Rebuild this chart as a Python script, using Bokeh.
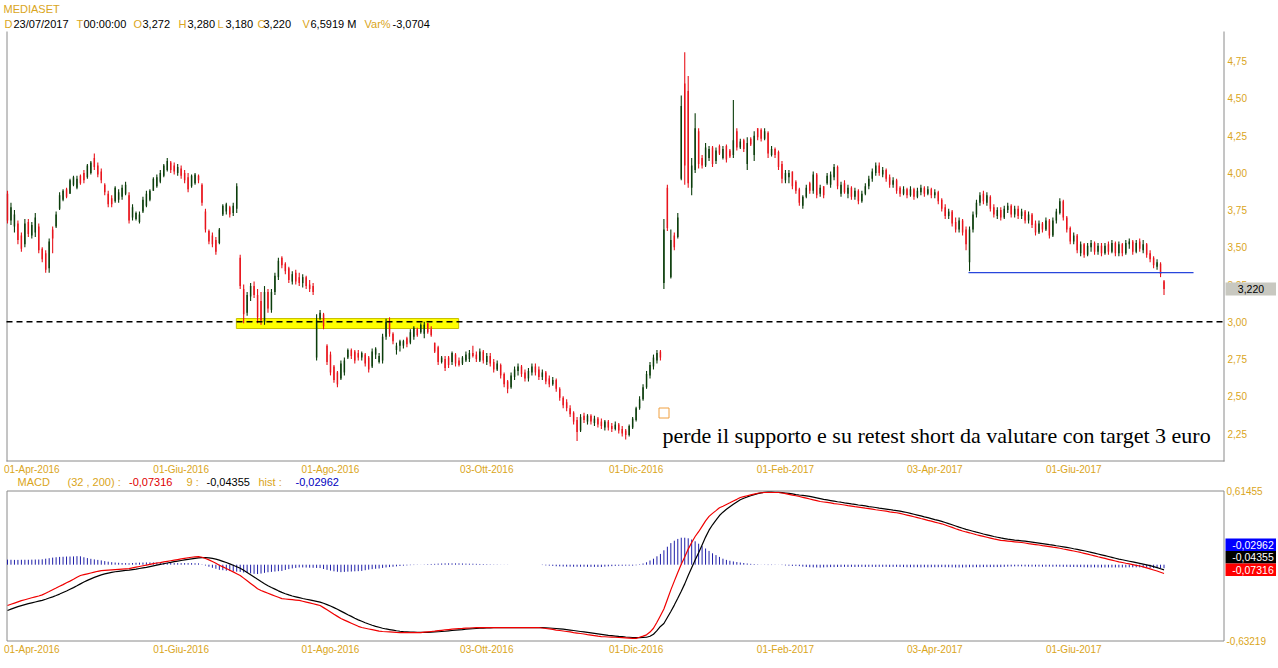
from bokeh.plotting import figure
from bokeh.models import Range1d, ColumnDataSource
from bokeh.core.properties import value
from bokeh.embed import file_html
from bokeh.resources import INLINE

# ---------------- data ----------------
open_ = [
    3.86, 3.68, 3.64, 3.66, 3.58, 3.52, 3.67, 3.58, 3.60, 3.64,
    3.49, 3.46, 3.36, 3.62, 3.64, 3.76, 3.82, 3.89, 3.86, 3.92,
    3.90, 3.98, 4.00, 3.97, 4.00, 4.10, 4.05, 4.01, 3.92, 3.86,
    3.83, 3.81, 3.82, 3.84, 3.86, 3.85, 3.70, 3.69, 3.67, 3.74,
    3.78, 3.82, 3.88, 3.91, 3.94, 3.98, 4.02, 4.07, 4.05, 4.00,
    4.03, 4.00, 3.97, 3.91, 3.93, 3.98, 3.92, 3.74, 3.61, 3.58,
    3.55, 3.53, 3.72, 3.74, 3.77, 3.73, 3.76, 3.43, 3.22, 3.06,
    3.17, 3.24, 3.18, 3.14, 3.00, 3.20, 3.08, 3.20, 3.30, 3.43,
    3.39, 3.36, 3.27, 3.33, 3.30, 3.26, 3.30, 3.25, 3.24, 2.76,
    3.02, 3.05, 2.84, 2.78, 2.70, 2.66, 2.62, 2.66, 2.76, 2.81,
    2.80, 2.79, 2.76, 2.78, 2.76, 2.70, 2.78, 2.73, 2.74, 2.90,
    3.00, 2.92, 2.81, 2.84, 2.84, 2.89, 2.86, 2.90, 2.95, 2.93,
    2.92, 2.99, 2.95, 2.86, 2.83, 2.73, 2.75, 2.76, 2.73, 2.78,
    2.74, 2.72, 2.74, 2.75, 2.79, 2.78, 2.74, 2.80, 2.73, 2.77,
    2.73, 2.68, 2.71, 2.65, 2.60, 2.56, 2.63, 2.67, 2.70, 2.66,
    2.62, 2.66, 2.70, 2.68, 2.63, 2.66, 2.62, 2.58, 2.61, 2.55,
    2.49, 2.46, 2.42, 2.39, 2.34, 2.27, 2.37, 2.33, 2.37, 2.32,
    2.35, 2.33, 2.29, 2.33, 2.30, 2.28, 2.31, 2.28, 2.27, 2.24,
    2.29, 2.34, 2.42, 2.48, 2.56, 2.64, 2.70, 2.74, 2.80, 3.26,
    3.90, 3.30, 3.58, 3.57, 3.96, 4.60, 4.55, 3.90, 4.02, 4.28,
    4.10, 4.05, 4.10, 4.17, 4.08, 4.18, 4.10, 4.18, 4.15, 4.12,
    4.28, 4.17, 4.22, 4.06, 4.23, 4.12, 4.30, 4.29, 4.23, 4.27,
    4.12, 4.16, 4.14, 4.06, 3.95, 3.97, 4.01, 3.94, 3.89, 3.78,
    3.84, 3.93, 3.88, 3.99, 3.86, 3.91, 3.93, 3.92, 3.97, 4.04,
    3.86, 3.93, 3.86, 3.90, 3.84, 3.88, 3.81, 3.86, 3.91, 3.96,
    4.00, 4.05, 3.99, 4.02, 3.97, 3.92, 3.95, 3.90, 3.86, 3.89,
    3.85, 3.89, 3.84, 3.87, 3.90, 3.86, 3.89, 3.85, 3.87, 3.82,
    3.77, 3.71, 3.74, 3.67, 3.62, 3.68, 3.62, 3.40, 3.62, 3.72,
    3.80, 3.86, 3.80, 3.84, 3.77, 3.71, 3.75, 3.70, 3.75, 3.78,
    3.72, 3.76, 3.71, 3.74, 3.68, 3.72, 3.66, 3.60, 3.66, 3.62,
    3.68, 3.58, 3.68, 3.73, 3.81, 3.70, 3.63, 3.54, 3.58, 3.46,
    3.52, 3.45, 3.50, 3.53, 3.47, 3.51, 3.46, 3.52, 3.47, 3.53,
    3.46, 3.52, 3.46, 3.52, 3.54, 3.47, 3.54, 3.48, 3.52, 3.46,
    3.43, 3.37, 3.39, 3.272,
]
high = [
    3.88, 3.80, 3.75, 3.68, 3.60, 3.69, 3.69, 3.67, 3.73, 3.66,
    3.50, 3.48, 3.56, 3.64, 3.74, 3.87, 3.89, 3.90, 3.96, 3.98,
    3.98, 3.99, 4.02, 4.06, 4.08, 4.13, 4.07, 4.03, 3.93, 3.88,
    3.85, 3.91, 3.89, 3.92, 3.94, 3.87, 3.79, 3.74, 3.74, 3.84,
    3.88, 3.89, 3.97, 3.99, 4.02, 4.06, 4.10, 4.08, 4.07, 4.06,
    4.05, 4.02, 4.00, 3.99, 4.00, 3.99, 3.93, 3.76, 3.62, 3.60,
    3.57, 3.63, 3.79, 3.80, 3.78, 3.80, 3.93, 3.45, 3.25, 3.20,
    3.26, 3.27, 3.22, 3.20, 3.24, 3.22, 3.22, 3.33, 3.43, 3.44,
    3.40, 3.37, 3.34, 3.35, 3.33, 3.32, 3.31, 3.28, 3.26, 3.05,
    3.08, 3.06, 2.85, 2.80, 2.71, 2.67, 2.74, 2.76, 2.82, 2.82,
    2.81, 2.81, 2.80, 2.79, 2.77, 2.82, 2.83, 2.79, 2.92, 3.02,
    3.03, 2.93, 2.86, 2.88, 2.88, 2.90, 2.95, 2.97, 2.96, 2.99,
    3.00, 2.99, 2.97, 2.86, 2.84, 2.77, 2.77, 2.77, 2.80, 2.79,
    2.76, 2.77, 2.80, 2.81, 2.84, 2.80, 2.82, 2.81, 2.79, 2.79,
    2.75, 2.74, 2.72, 2.66, 2.61, 2.66, 2.70, 2.72, 2.71, 2.68,
    2.69, 2.72, 2.72, 2.70, 2.68, 2.67, 2.64, 2.63, 2.62, 2.56,
    2.50, 2.48, 2.44, 2.40, 2.36, 2.38, 2.39, 2.38, 2.38, 2.37,
    2.36, 2.35, 2.34, 2.34, 2.32, 2.33, 2.32, 2.30, 2.28, 2.31,
    2.36, 2.43, 2.50, 2.58, 2.67, 2.73, 2.78, 2.81, 2.81, 3.69,
    3.92, 3.62, 3.60, 3.73, 4.52, 4.81, 4.65, 4.10, 4.40, 4.30,
    4.12, 4.20, 4.18, 4.18, 4.17, 4.19, 4.18, 4.19, 4.16, 4.49,
    4.30, 4.23, 4.23, 4.24, 4.24, 4.28, 4.30, 4.30, 4.30, 4.28,
    4.18, 4.17, 4.15, 4.08, 4.02, 4.02, 4.01, 3.95, 3.90, 3.85,
    3.92, 3.94, 4.01, 4.00, 3.92, 3.91, 4.00, 4.01, 4.06, 4.05,
    3.94, 3.95, 3.92, 3.91, 3.90, 3.89, 3.88, 3.93, 3.98, 4.03,
    4.07, 4.07, 4.04, 4.03, 3.99, 3.97, 3.96, 3.91, 3.91, 3.90,
    3.91, 3.90, 3.90, 3.92, 3.91, 3.91, 3.90, 3.89, 3.88, 3.83,
    3.79, 3.76, 3.75, 3.70, 3.70, 3.69, 3.64, 3.64, 3.74, 3.82,
    3.87, 3.88, 3.87, 3.85, 3.79, 3.77, 3.77, 3.78, 3.80, 3.79,
    3.78, 3.78, 3.76, 3.75, 3.74, 3.73, 3.68, 3.68, 3.67, 3.70,
    3.69, 3.70, 3.76, 3.83, 3.82, 3.71, 3.64, 3.60, 3.59, 3.54,
    3.53, 3.53, 3.55, 3.54, 3.53, 3.53, 3.53, 3.54, 3.55, 3.54,
    3.54, 3.53, 3.55, 3.56, 3.55, 3.55, 3.56, 3.55, 3.53, 3.48,
    3.44, 3.42, 3.40, 3.28,
]
low = [
    3.66, 3.65, 3.60, 3.52, 3.47, 3.50, 3.57, 3.56, 3.57, 3.46,
    3.40, 3.33, 3.33, 3.46, 3.63, 3.75, 3.81, 3.83, 3.86, 3.91,
    3.89, 3.92, 3.93, 3.96, 3.99, 4.02, 3.97, 3.93, 3.85, 3.77,
    3.77, 3.80, 3.80, 3.82, 3.85, 3.66, 3.68, 3.68, 3.66, 3.73,
    3.77, 3.81, 3.88, 3.90, 3.93, 3.97, 4.01, 4.00, 3.99, 3.98,
    3.96, 3.93, 3.87, 3.90, 3.92, 3.93, 3.78, 3.60, 3.52, 3.50,
    3.45, 3.52, 3.71, 3.72, 3.70, 3.71, 3.73, 3.22, 2.99, 3.04,
    3.14, 3.16, 2.99, 2.98, 2.98, 3.06, 3.06, 3.18, 3.28, 3.36,
    3.32, 3.26, 3.25, 3.25, 3.24, 3.23, 3.22, 3.20, 3.18, 2.74,
    3.01, 2.95, 2.71, 2.64, 2.59, 2.56, 2.61, 2.64, 2.75, 2.75,
    2.72, 2.74, 2.74, 2.70, 2.66, 2.69, 2.75, 2.72, 2.72, 2.88,
    2.90, 2.85, 2.78, 2.80, 2.82, 2.83, 2.85, 2.88, 2.90, 2.92,
    2.89, 2.92, 2.90, 2.79, 2.71, 2.72, 2.67, 2.69, 2.71, 2.70,
    2.70, 2.71, 2.73, 2.73, 2.76, 2.73, 2.73, 2.72, 2.71, 2.70,
    2.66, 2.67, 2.62, 2.56, 2.52, 2.55, 2.61, 2.64, 2.63, 2.60,
    2.60, 2.64, 2.64, 2.61, 2.61, 2.58, 2.56, 2.57, 2.53, 2.47,
    2.42, 2.40, 2.36, 2.31, 2.20, 2.26, 2.32, 2.31, 2.31, 2.30,
    2.29, 2.28, 2.27, 2.27, 2.26, 2.27, 2.25, 2.23, 2.21, 2.23,
    2.28, 2.33, 2.41, 2.47, 2.55, 2.62, 2.68, 2.72, 2.74, 3.22,
    3.61, 3.29, 3.48, 3.56, 3.95, 3.92, 3.90, 3.85, 4.00, 4.03,
    4.03, 4.04, 4.08, 4.04, 4.06, 4.12, 4.09, 4.07, 4.10, 4.10,
    4.15, 4.16, 4.14, 4.02, 4.18, 4.08, 4.22, 4.21, 4.22, 4.10,
    4.11, 4.10, 4.02, 3.93, 3.93, 3.93, 3.89, 3.86, 3.78, 3.76,
    3.83, 3.86, 3.86, 3.83, 3.84, 3.83, 3.92, 3.90, 3.95, 3.89,
    3.84, 3.86, 3.83, 3.82, 3.82, 3.79, 3.80, 3.85, 3.89, 3.94,
    3.98, 3.98, 3.97, 3.94, 3.90, 3.90, 3.86, 3.84, 3.85, 3.83,
    3.84, 3.82, 3.83, 3.85, 3.84, 3.85, 3.83, 3.83, 3.79, 3.74,
    3.69, 3.69, 3.64, 3.60, 3.60, 3.58, 3.48, 3.34, 3.60, 3.70,
    3.78, 3.79, 3.78, 3.74, 3.70, 3.69, 3.68, 3.69, 3.73, 3.70,
    3.70, 3.69, 3.69, 3.66, 3.66, 3.63, 3.58, 3.59, 3.60, 3.61,
    3.56, 3.57, 3.66, 3.72, 3.68, 3.60, 3.52, 3.52, 3.46, 3.44,
    3.43, 3.44, 3.47, 3.45, 3.45, 3.44, 3.45, 3.45, 3.46, 3.44,
    3.44, 3.44, 3.45, 3.49, 3.45, 3.46, 3.47, 3.46, 3.43, 3.40,
    3.36, 3.35, 3.30, 3.18,
]
close = [
    3.68, 3.77, 3.72, 3.55, 3.49, 3.66, 3.59, 3.65, 3.70, 3.48,
    3.42, 3.35, 3.54, 3.56, 3.72, 3.85, 3.88, 3.84, 3.95, 3.97,
    3.96, 3.93, 3.95, 4.05, 4.07, 4.04, 3.99, 3.95, 3.87, 3.79,
    3.79, 3.90, 3.87, 3.90, 3.92, 3.68, 3.77, 3.73, 3.72, 3.82,
    3.86, 3.88, 3.96, 3.97, 4.00, 4.05, 4.08, 4.02, 4.01, 4.04,
    3.98, 3.95, 3.89, 3.98, 3.99, 3.95, 3.80, 3.62, 3.54, 3.52,
    3.47, 3.62, 3.78, 3.79, 3.72, 3.78, 3.91, 3.24, 3.05, 3.18,
    3.24, 3.18, 3.03, 3.01, 3.20, 3.09, 3.20, 3.31, 3.41, 3.38,
    3.34, 3.28, 3.32, 3.27, 3.26, 3.30, 3.24, 3.22, 3.20, 3.01,
    3.06, 2.97, 2.73, 2.66, 2.61, 2.58, 2.72, 2.74, 2.81, 2.77,
    2.74, 2.76, 2.79, 2.72, 2.68, 2.80, 2.82, 2.77, 2.90, 3.00,
    2.92, 2.87, 2.84, 2.87, 2.87, 2.85, 2.93, 2.96, 2.91, 2.98,
    2.98, 2.93, 2.91, 2.80, 2.73, 2.76, 2.69, 2.71, 2.79, 2.72,
    2.71, 2.76, 2.78, 2.79, 2.77, 2.75, 2.80, 2.74, 2.77, 2.72,
    2.68, 2.72, 2.64, 2.58, 2.55, 2.64, 2.68, 2.70, 2.65, 2.62,
    2.67, 2.70, 2.66, 2.63, 2.66, 2.60, 2.58, 2.61, 2.55, 2.49,
    2.44, 2.42, 2.38, 2.33, 2.26, 2.36, 2.34, 2.37, 2.33, 2.35,
    2.31, 2.30, 2.33, 2.29, 2.28, 2.31, 2.27, 2.25, 2.24, 2.30,
    2.35, 2.42, 2.48, 2.56, 2.65, 2.71, 2.76, 2.79, 2.76, 3.62,
    3.63, 3.55, 3.50, 3.70, 4.45, 4.05, 3.93, 4.05, 4.30, 4.06,
    4.05, 4.17, 4.16, 4.06, 4.15, 4.13, 4.16, 4.09, 4.11, 4.22,
    4.17, 4.21, 4.16, 4.20, 4.19, 4.25, 4.24, 4.23, 4.28, 4.13,
    4.16, 4.12, 4.04, 3.96, 4.00, 4.00, 3.91, 3.88, 3.80, 3.84,
    3.90, 3.88, 3.99, 3.85, 3.90, 3.85, 3.98, 3.99, 4.04, 3.91,
    3.92, 3.87, 3.90, 3.84, 3.88, 3.81, 3.86, 3.91, 3.96, 4.01,
    4.05, 4.00, 4.02, 3.96, 3.92, 3.95, 3.88, 3.86, 3.89, 3.85,
    3.89, 3.84, 3.88, 3.90, 3.86, 3.89, 3.85, 3.87, 3.81, 3.76,
    3.71, 3.74, 3.66, 3.62, 3.68, 3.60, 3.52, 3.62, 3.72, 3.80,
    3.85, 3.81, 3.85, 3.76, 3.72, 3.75, 3.70, 3.76, 3.78, 3.72,
    3.76, 3.71, 3.74, 3.68, 3.72, 3.65, 3.60, 3.66, 3.62, 3.68,
    3.58, 3.68, 3.74, 3.81, 3.70, 3.62, 3.54, 3.58, 3.48, 3.52,
    3.45, 3.51, 3.53, 3.47, 3.51, 3.46, 3.51, 3.47, 3.53, 3.46,
    3.52, 3.46, 3.53, 3.54, 3.47, 3.53, 3.49, 3.52, 3.45, 3.42,
    3.38, 3.40, 3.32, 3.22,
]
macd = [
    -0.340, -0.330, -0.320, -0.310, -0.300, -0.292, -0.284, -0.276, -0.268, -0.261,
    -0.252, -0.238, -0.224, -0.209, -0.195, -0.180, -0.166, -0.151, -0.137, -0.122,
    -0.105, -0.090, -0.083, -0.076, -0.069, -0.062, -0.055, -0.049, -0.047, -0.045,
    -0.043, -0.041, -0.039, -0.037, -0.035, -0.033, -0.027, -0.021, -0.015, -0.009,
    -0.003, 0.003, 0.009, 0.014, 0.018, 0.023, 0.028, 0.033, 0.038, 0.043,
    0.048, 0.053, 0.058, 0.062, 0.065, 0.068, 0.062, 0.052, 0.040, 0.026,
    0.012, -0.005, -0.018, -0.032, -0.046, -0.060, -0.075, -0.090, -0.112, -0.134,
    -0.156, -0.178, -0.200, -0.215, -0.227, -0.238, -0.250, -0.261, -0.272, -0.283,
    -0.286, -0.289, -0.292, -0.295, -0.298, -0.305, -0.312, -0.319, -0.326, -0.333,
    -0.340, -0.358, -0.376, -0.394, -0.413, -0.431, -0.449, -0.462, -0.475, -0.488,
    -0.501, -0.514, -0.524, -0.530, -0.536, -0.542, -0.548, -0.554, -0.557, -0.559,
    -0.561, -0.563, -0.565, -0.566, -0.566, -0.566, -0.566, -0.566, -0.566, -0.566,
    -0.563, -0.560, -0.557, -0.554, -0.550, -0.547, -0.544, -0.541, -0.538, -0.535,
    -0.532, -0.531, -0.529, -0.528, -0.526, -0.525, -0.524, -0.524, -0.524, -0.524,
    -0.524, -0.524, -0.524, -0.524, -0.524, -0.524, -0.524, -0.524, -0.524, -0.524,
    -0.524, -0.524, -0.524, -0.524, -0.528, -0.532, -0.536, -0.540, -0.545, -0.549,
    -0.553, -0.557, -0.561, -0.566, -0.570, -0.574, -0.578, -0.583, -0.587, -0.591,
    -0.596, -0.600, -0.601, -0.603, -0.604, -0.605, -0.607, -0.609, -0.611, -0.613,
    -0.615, -0.614, -0.605, -0.596, -0.585, -0.562, -0.530, -0.480, -0.425, -0.370,
    -0.290, -0.210, -0.137, -0.065, 0.003, 0.065, 0.130, 0.185, 0.235, 0.275,
    0.320, 0.365, 0.403, 0.428, 0.451, 0.475, 0.488, 0.502, 0.516, 0.531,
    0.545, 0.560, 0.568, 0.575, 0.582, 0.589, 0.596, 0.600, 0.602, 0.602,
    0.602, 0.602, 0.602, 0.598, 0.592, 0.586, 0.580, 0.575, 0.569, 0.562,
    0.555, 0.548, 0.541, 0.534, 0.527, 0.523, 0.519, 0.515, 0.510, 0.506,
    0.502, 0.498, 0.493, 0.489, 0.484, 0.480, 0.476, 0.471, 0.467, 0.463,
    0.458, 0.454, 0.450, 0.446, 0.441, 0.437, 0.433, 0.428, 0.421, 0.414,
    0.407, 0.400, 0.393, 0.385, 0.378, 0.370, 0.363, 0.355, 0.348, 0.341,
    0.331, 0.321, 0.311, 0.300, 0.290, 0.281, 0.273, 0.266, 0.258, 0.250,
    0.243, 0.236, 0.229, 0.222, 0.215, 0.209, 0.203, 0.200, 0.197, 0.194,
    0.191, 0.188, 0.185, 0.181, 0.176, 0.172, 0.168, 0.164, 0.159, 0.155,
    0.151, 0.146, 0.142, 0.137, 0.131, 0.126, 0.120, 0.114, 0.108, 0.102,
    0.095, 0.088, 0.081, 0.074, 0.066, 0.059, 0.052, 0.045, 0.038, 0.031,
    0.024, 0.018, 0.012, 0.007, 0.001, -0.005, -0.011, -0.018, -0.026, -0.035,
    -0.044, -0.053, -0.063, -0.07316,
]
signal = [
    -0.382, -0.371, -0.360, -0.350, -0.341, -0.333, -0.325, -0.318, -0.311, -0.304,
    -0.297, -0.288, -0.278, -0.268, -0.257, -0.245, -0.232, -0.219, -0.205, -0.191,
    -0.176, -0.160, -0.145, -0.131, -0.118, -0.106, -0.095, -0.085, -0.077, -0.070,
    -0.064, -0.059, -0.055, -0.051, -0.048, -0.045, -0.041, -0.037, -0.032, -0.027,
    -0.022, -0.016, -0.010, -0.004, 0.002, 0.008, 0.014, 0.019, 0.025, 0.030,
    0.035, 0.040, 0.045, 0.049, 0.053, 0.057, 0.059, 0.059, 0.057, 0.052,
    0.046, 0.038, 0.028, 0.018, 0.007, -0.005, -0.017, -0.030, -0.047, -0.065,
    -0.083, -0.102, -0.122, -0.141, -0.159, -0.175, -0.190, -0.204, -0.218, -0.231,
    -0.242, -0.252, -0.261, -0.268, -0.275, -0.282, -0.288, -0.294, -0.300, -0.306,
    -0.312, -0.322, -0.333, -0.345, -0.358, -0.372, -0.387, -0.402, -0.417, -0.431,
    -0.446, -0.460, -0.472, -0.484, -0.495, -0.505, -0.514, -0.522, -0.530, -0.536,
    -0.541, -0.546, -0.551, -0.555, -0.558, -0.560, -0.562, -0.563, -0.564, -0.565,
    -0.565, -0.564, -0.563, -0.561, -0.559, -0.557, -0.555, -0.552, -0.549, -0.546,
    -0.543, -0.541, -0.538, -0.536, -0.534, -0.532, -0.530, -0.529, -0.528, -0.527,
    -0.526, -0.526, -0.525, -0.525, -0.525, -0.524, -0.524, -0.524, -0.524, -0.524,
    -0.524, -0.524, -0.524, -0.524, -0.525, -0.526, -0.528, -0.530, -0.532, -0.535,
    -0.538, -0.541, -0.545, -0.549, -0.553, -0.557, -0.561, -0.565, -0.569, -0.573,
    -0.577, -0.581, -0.585, -0.589, -0.592, -0.595, -0.598, -0.600, -0.603, -0.605,
    -0.607, -0.609, -0.609, -0.606, -0.605, -0.597, -0.580, -0.550, -0.515, -0.490,
    -0.440, -0.390, -0.337, -0.280, -0.222, -0.160, -0.090, -0.025, 0.040, 0.100,
    0.165, 0.230, 0.288, 0.333, 0.371, 0.410, 0.438, 0.462, 0.483, 0.504,
    0.523, 0.542, 0.554, 0.565, 0.575, 0.584, 0.593, 0.599, 0.604, 0.605,
    0.605, 0.604, 0.603, 0.601, 0.598, 0.594, 0.590, 0.585, 0.581, 0.578,
    0.574, 0.569, 0.563, 0.557, 0.551, 0.545, 0.540, 0.535, 0.530, 0.525,
    0.521, 0.516, 0.512, 0.507, 0.503, 0.498, 0.494, 0.490, 0.485, 0.481,
    0.477, 0.472, 0.468, 0.464, 0.460, 0.455, 0.451, 0.447, 0.441, 0.435,
    0.428, 0.421, 0.414, 0.407, 0.399, 0.392, 0.384, 0.376, 0.369, 0.361,
    0.352, 0.342, 0.333, 0.323, 0.313, 0.304, 0.295, 0.287, 0.279, 0.271,
    0.264, 0.256, 0.249, 0.242, 0.235, 0.229, 0.223, 0.218, 0.213, 0.209,
    0.205, 0.202, 0.199, 0.196, 0.192, 0.188, 0.184, 0.180, 0.176, 0.172,
    0.167, 0.163, 0.158, 0.154, 0.149, 0.144, 0.139, 0.133, 0.128, 0.122,
    0.116, 0.110, 0.103, 0.096, 0.089, 0.082, 0.075, 0.068, 0.061, 0.054,
    0.047, 0.041, 0.035, 0.029, 0.023, 0.017, 0.011, 0.005, -0.001, -0.008,
    -0.016, -0.025, -0.034, -0.04355,
]

date_tick_index = [7, 50, 93, 138, 181, 224, 267, 307]
date_tick_labels = ["01-Apr-2016", "01-Giu-2016", "01-Ago-2016", "03-Ott-2016",
                    "01-Dic-2016", "01-Feb-2017", "03-Apr-2017", "01-Giu-2017"]
price_ticks = [2.25, 2.50, 2.75, 3.00, 3.25, 3.50, 3.75, 4.00, 4.25, 4.50, 4.75]
price_tick_labels = ["2,25", "2,50", "2,75", "3,00", "3,25", "3,50", "3,75",
                     "4,00", "4,25", "4,50", "4,75"]
macd_ticks = [-0.63219, 0.61455]
macd_tick_labels = ["-0,63219", "0,61455"]

support_level = 3.00                    # dashed horizontal support
zone_bottom, zone_top = 2.955, 3.022    # yellow support zone
zone_start, zone_end = 65.9, 129.9
break_level = 3.33                      # blue breakdown line
break_start, break_end = 276.7, 341.5

title = "MEDIASET"
header_keys = ["D", "T", "O", "H", "L", "C", "V", "Var%"]
header_vals = ["23/07/2017", "00:00:00", "3,272", "3,280", "3,180", "3,220", "6,5919 M", "-3,0704"]
legend_texts = ["MACD", "(32 , 200) :", "-0,07316", "9 :", "-0,04355", "hist :", "-0,02962"]
value_boxes = ["-0,02962", "-0,04355", "-0,07316"]
note_text = "perde il supporto e su retest short da valutare con target 3 euro"

# ---------------- styling / layout ----------------
W, H = 1276, 666
GOLD = "#DAA520"
UP = "#0B3D0B"
DOWN = "#E8141C"
FRAME = "#8A8A8A"
FONT = "Liberation Sans"

# pixel calibration of the scales (bar 0 at x=7 px, 3.473 px per bar)
BAR0_PX, BAR_PX = 7.0, 3.473
XS = -BAR0_PX / BAR_PX
XE = XS + W / BAR_PX
PRICE_PPU = (433.0 - 60.7) / (4.75 - 2.25)
P_TOP = 4.75 + 60.7 / PRICE_PPU
P_BOT = P_TOP - H / PRICE_PPU
MACD_PPU = (640.0 - 490.5) / (0.61455 + 0.63219)
M_TOP = 0.61455 + 490.5 / MACD_PPU
M_BOT = M_TOP - H / MACD_PPU

n = min(len(open_), len(high), len(low), len(close), len(macd), len(signal))
idx = list(range(n))

p = figure(frame_width=W, frame_height=H,
           min_border_left=0, min_border_right=0, min_border_top=0, min_border_bottom=0,
           x_range=Range1d(XS, XE), y_range=Range1d(H, 0),
           x_axis_location=None, y_axis_location=None,
           toolbar_location=None, output_backend="svg",
           outline_line_color=None, background_fill_color="white",
           border_fill_color="white")
p.xgrid.grid_line_color = None
p.ygrid.grid_line_color = None
p.xgrid.visible = False
p.ygrid.visible = False
p.extra_x_ranges = {"px": Range1d(0, W)}
p.extra_y_ranges = {"price": Range1d(P_BOT, P_TOP), "macd": Range1d(M_BOT, M_TOP)}


def put_text(xs, ys, texts, color, size="11px", font=FONT, align="left",
             baseline="middle", xr="px", yr="default"):
    p.text(x=xs, y=ys, text=texts, text_color=color, text_font=value(font),
           text_font_size=value(size), text_align=align, text_baseline=baseline,
           x_range_name=xr, y_range_name=yr)


# ---- price panel frame (left, bottom, right) ----
p.segment(x0=[6.5, 6, 1223.5], y0=[31, 460.5, 31], x1=[6.5, 1224, 1223.5], y1=[461, 460.5, 461],
          x_range_name="px", line_color=FRAME, line_width=1)

# support zone
p.quad(left=[zone_start], right=[zone_end], bottom=[zone_bottom], top=[zone_top],
       y_range_name="price", fill_color="#FFFF00", line_color="#C8C000", line_width=1)

# OHLC bars
body_top = [max(o, c) for o, c in zip(open_[:n], close[:n])]
body_bot = [min(o, c) for o, c in zip(open_[:n], close[:n])]
colors = [UP if c > o else DOWN for o, c in zip(open_[:n], close[:n])]
src = ColumnDataSource(dict(x=idx, h=high[:n], l=low[:n], t=body_top, b=body_bot, color=colors))
p.segment(x0="x", y0="h", x1="x", y1="l", line_color="color", line_width=1.1,
          source=src, y_range_name="price")
p.vbar(x="x", width=0.42, top="t", bottom="b", fill_color="color", line_color=None,
       source=src, y_range_name="price")

# dashed support line and blue breakdown line
p.segment(x0=[6], y0=[support_level], x1=[1223], y1=[support_level], x_range_name="px",
          y_range_name="price", line_color="black", line_dash="6 4", line_width=1.4)
p.segment(x0=[break_start], y0=[break_level], x1=[break_end], y1=[break_level],
          y_range_name="price", line_color="#2846DC", line_width=1.2)

# note with its anchor square
p.quad(left=[658.5], right=[668.5], top=[407.5], bottom=[417.5], x_range_name="px",
       fill_color=None, line_color="#F0A040", line_width=1)
put_text([662], [434.5], [note_text], "black", size="22px", font="Liberation Serif",
         baseline="alphabetic")

# price axis labels
put_text([1227] * len(price_ticks), price_ticks, price_tick_labels, GOLD, size="10px", yr="price")
# last price marker
last_label = ("%.3f" % close[n - 1]).replace(".", ",")
p.rect(x=[1251.5], y=[close[n - 1]], width=53, height=13, width_units="screen",
       height_units="screen", x_range_name="px", y_range_name="price",
       fill_color="#C8C8C0", line_color=None)
put_text([1250.5], [close[n - 1]], [last_label], "black", size="10.5px", align="center", yr="price")

# date labels (price panel and MACD panel)
put_text(date_tick_index, [469] * len(date_tick_index), date_tick_labels, GOLD, size="10px",
         align="center", xr="default")
put_text(date_tick_index, [649] * len(date_tick_index), date_tick_labels, GOLD, size="10px",
         align="center", xr="default")

# header
put_text([3], [8.5], [title], GOLD)
put_text([4, 76, 133, 178, 217, 257, 302, 364], [23] * 8, header_keys, GOLD)
put_text([13, 83, 142, 187, 225, 263, 310, 392], [23] * 8, header_vals, "black")

# ---- MACD panel ----
p.quad(left=[6.5], right=[1223.5], top=[490.5], bottom=[640.5], x_range_name="px",
       fill_color=None, line_color=FRAME, line_width=1)
hist = [m - s for m, s in zip(macd[:n], signal[:n])]
p.segment(x0=idx, y0=[0] * n, x1=idx, y1=hist, line_color="#1E1EA8", line_width=1,
          y_range_name="macd")
p.line(idx, signal[:n], line_color="black", line_width=1.2, y_range_name="macd")
p.line(idx, macd[:n], line_color="#F00000", line_width=1.2, y_range_name="macd")

put_text([1226, 1226], macd_ticks, macd_tick_labels, GOLD, size="10px", yr="macd")
put_text([17, 67, 128.5, 186, 206, 258, 295], [481.5] * 7, legend_texts,
         [GOLD, GOLD, "#E00000", GOLD, "black", GOLD, "#0000C0"])

box_top = [538, 550.5, 563]
box_bot = [550.5, 563, 575.5]
p.quad(left=[1225] * 3, right=[1278] * 3, top=box_top, bottom=box_bot, x_range_name="px",
       fill_color=["#0000FF", "#000000", "#FF0000"], line_color=None)
put_text([1252.5] * 3, [(a + b) / 2 for a, b in zip(box_top, box_bot)], value_boxes, "white",
         size="10.5px", align="center")

open("out.html", "w").write(file_html(p, INLINE, "MEDIASET"))
